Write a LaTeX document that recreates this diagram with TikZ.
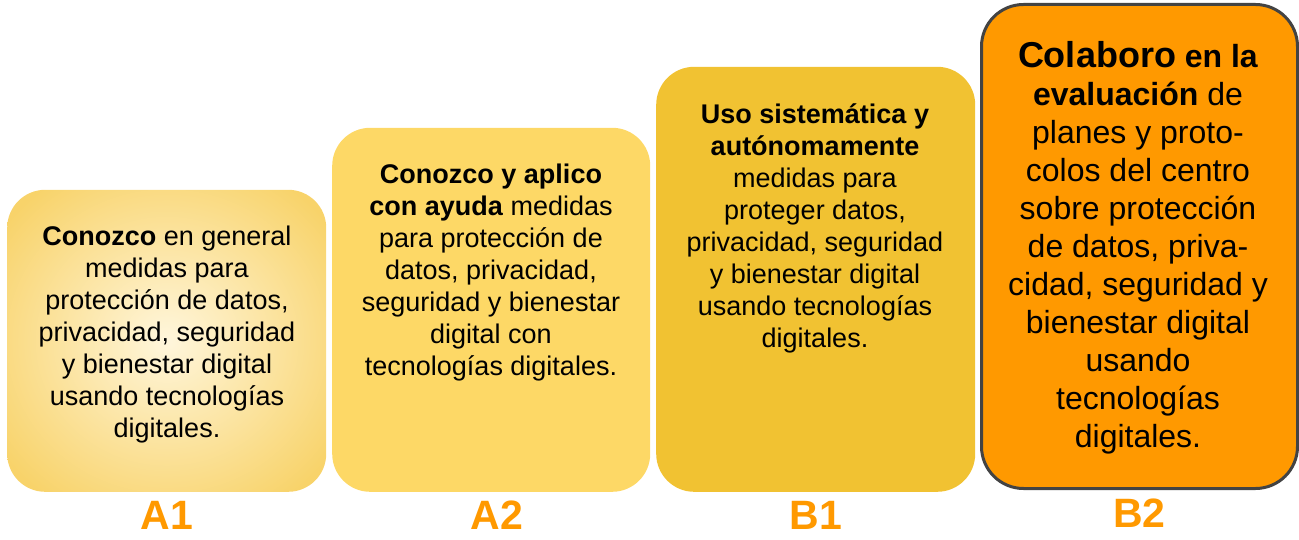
\documentclass[tikz,border=0pt]{standalone}
\usepackage{fontspec}
\setmainfont{Liberation Sans}
\usetikzlibrary{positioning}
\definecolor{nivelA1}{HTML}{F8D36A}
\definecolor{nivelA1c}{HTML}{FFF6DC}
\definecolor{nivelA2}{HTML}{FDD866}
\definecolor{nivelB1}{HTML}{F1C232}
\definecolor{nivelB2}{HTML}{FF9900}
\definecolor{borde}{HTML}{434343}
\pgfdeclareradialshading{brilloA1}{\pgfpoint{0bp}{0bp}}{color(0bp)=(nivelA1c); color(32bp)=(nivelA1); color(50bp)=(nivelA1)}
\begin{document}
\begin{tikzpicture}[x=1pt, y=-1pt, line join=round,
	caja/.style={rounded corners=38pt, inner sep=0pt, anchor=south west},
	texto/.style={anchor=north, align=center, inner sep=0pt, font=\fontsize{27}{32}\selectfont},
	nivel/.style={below=9pt of #1, inner sep=0pt, text=nivelB2, font=\fontsize{41}{44}\selectfont\bfseries}]
	\useasboundingbox (0,0) rectangle (1299,540);
	\node[caja, minimum width=319pt, minimum height=302pt, shading=brilloA1] (cajaA1) at (7,492) {};
	\node[caja, minimum width=318pt, minimum height=364pt, fill=nivelA2] (cajaA2) at (332,492) {};
	\node[caja, minimum width=319pt, minimum height=425pt, fill=nivelB1] (cajaB1) at (656,492) {};
	\node[caja, minimum width=316pt, minimum height=484pt, fill=nivelB2, draw=borde, line width=3pt, rounded corners=42pt] (cajaB2) at (980,490) {};
	\node[texto] (txtA1) at (167,220) {\rule{0pt}{25pt}\textbf{Conozco} en general\\ medidas para\\ protección de datos,\\ privacidad, seguridad\\ y bienestar digital\\ usando tecnologías\\ digitales.};
	\node[texto] (txtA2) at (491,158) {\rule{0pt}{25pt}\textbf{Conozco y aplico}\\ \textbf{con ayuda} medidas\\ para protección de\\ datos, privacidad,\\ seguridad y bienestar\\ digital con\\ tecnologías digitales.};
	\node[texto] (txtB1) at (815,98) {\rule{0pt}{25pt}\textbf{Uso sistemática y}\\ \textbf{autónomamente}\\ medidas para\\ proteger datos,\\ privacidad, seguridad\\ y bienestar digital\\ usando tecnologías\\ digitales.};
	\node[texto, font=\fontsize{32}{38}\selectfont] (txtB2) at (1138,37) {\rule{0pt}{30pt}{\fontsize{36}{38}\selectfont\bfseries Colaboro} \textbf{en la}\\ \textbf{evaluación} de\\ planes y proto-\\ colos del centro\\ sobre protección\\ de datos, priva-\\ cidad, seguridad y\\ bienestar digital\\ usando\\ tecnologías\\ digitales.};
	\node[nivel=cajaA1] (nivA1) {A1};
	\node[nivel=cajaA2, xshift=6pt] (nivA2) {A2};
	\node[nivel=cajaB1] (nivB1) {B1};
	\node[nivel=cajaB2] (nivB2) {B2};
\end{tikzpicture}
\end{document}
